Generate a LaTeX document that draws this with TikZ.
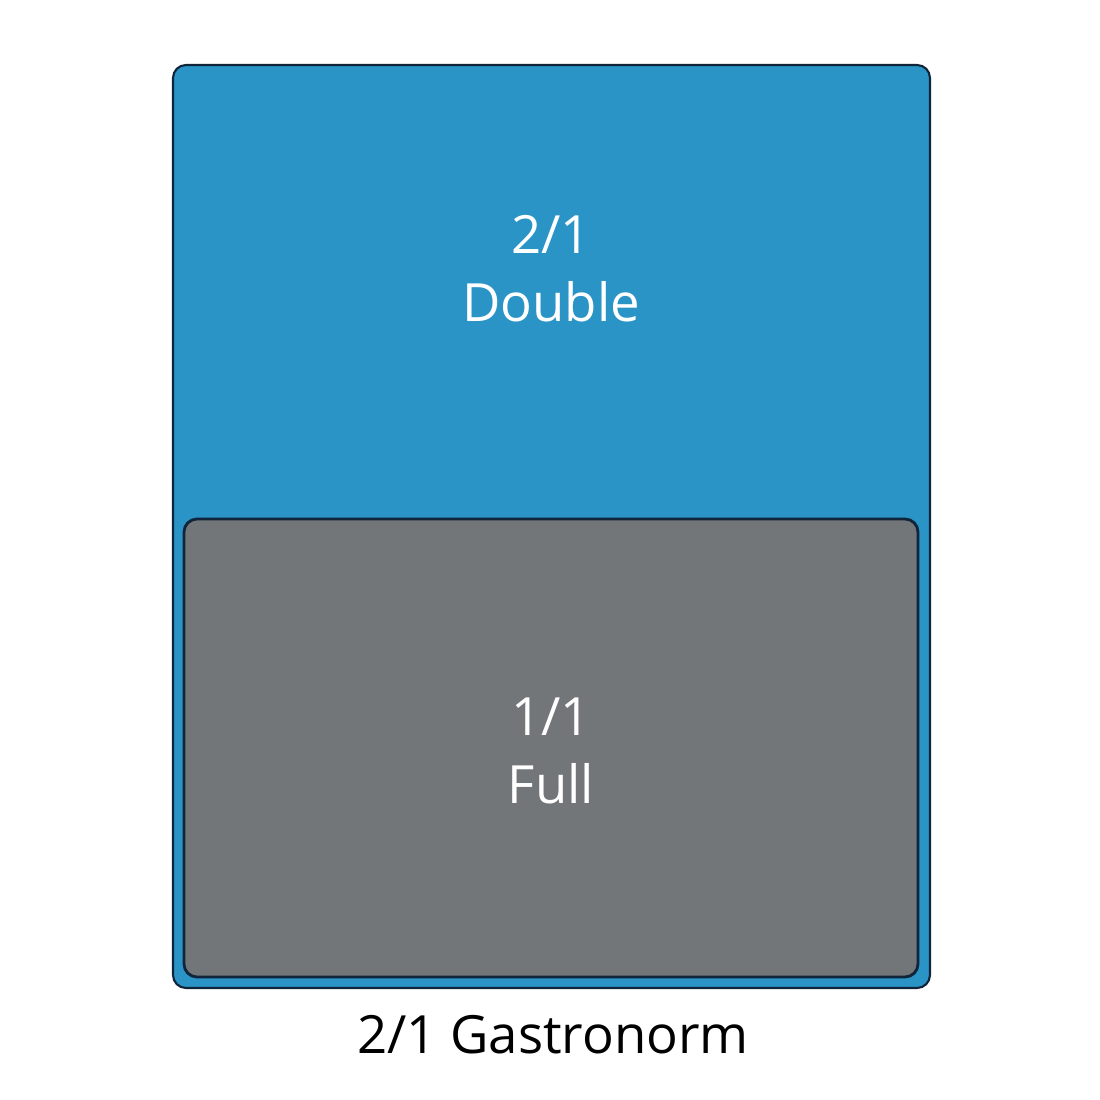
\documentclass[tikz,border=0pt]{standalone}
\usepackage{fontspec}
\setmainfont{Open Sans}
\usetikzlibrary{positioning}

\definecolor{panblue}{HTML}{2A94C6}
\definecolor{pangrey}{HTML}{737678}
\definecolor{panedge}{HTML}{10243A}

\begin{document}
\begin{tikzpicture}
\useasboundingbox (0,0) rectangle (11,11);

\draw[panedge, line width=0.6pt, fill=panblue, rounded corners=0.13cm] (1.73,1.12) rectangle (9.30,10.35);
\draw[panedge, line width=0.8pt, fill=pangrey, rounded corners=0.13cm] (1.84,1.23) rectangle (9.18,5.81);

\node[white, align=center, font=\fontsize{15}{19.4}\selectfont] (double) at (5.51, 8.31) {2/1\\Double};
\node[white, align=center, font=\fontsize{15}{19.4}\selectfont] (full) at (5.51, 3.49) {1/1\\Full};
\node[black, font=\fontsize{15}{19.4}\selectfont] (gastro) at (5.53, 0.655) {2/1 Gastronorm};

\end{tikzpicture}
\end{document}
